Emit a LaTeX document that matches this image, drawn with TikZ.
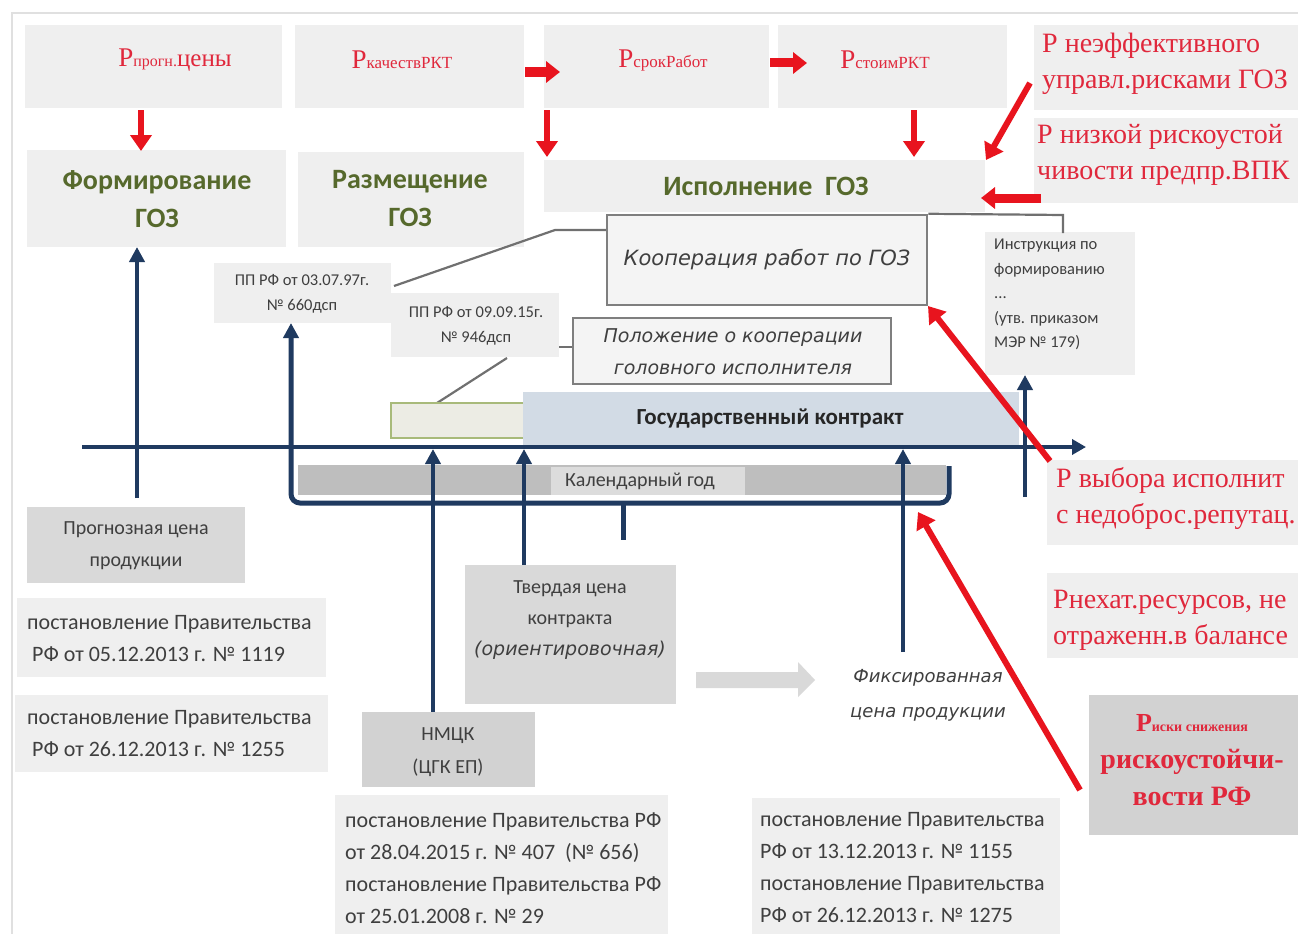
\documentclass[tikz,border=0pt]{standalone}
\usepackage{fontspec}
\setmainfont{Liberation Serif}
\newfontfamily\calfont{Carlito}
\newfontfamily\oblfont{DejaVu Sans}
\usetikzlibrary{arrows.meta}
\newcommand\fsz[2]{\fontsize{#1}{#2}\selectfont}

\definecolor{boxgray}{HTML}{EFEFEF}
\definecolor{midgray}{HTML}{D9D9D9}
\definecolor{riskgray}{HTML}{D2D2D2}
\definecolor{calgray}{HTML}{BEBEBE}
\definecolor{callab}{HTML}{DCDCDC}
\definecolor{riskred}{HTML}{E0283C}
\definecolor{arrowred}{HTML}{E8141E}
\definecolor{goz}{HTML}{56692C}
\definecolor{navy}{HTML}{1F3A60}
\definecolor{txtgray}{HTML}{3F3F3F}
\definecolor{framegray}{HTML}{7F7F7F}
\definecolor{linkgray}{HTML}{707070}
\definecolor{coopfill}{HTML}{F4F4F4}
\definecolor{gkblue}{HTML}{D2DBE5}
\definecolor{olivebar}{HTML}{A8BA7A}
\definecolor{olivefill}{HTML}{ECECE4}

\tikzset{
  lbox/.style={fill=boxgray, inner sep=0pt, outer sep=0pt},
  gbox/.style={fill=midgray, inner sep=0pt, outer sep=0pt},
  framebox/.style={fill=coopfill, draw=framegray, line width=2.5pt, inner sep=0pt},
  redtxt/.style={text=riskred, inner sep=0pt, font=\fsz{28}{36}, align=left},
  toptxt/.style={text=riskred, inner sep=0pt},
  goztxt/.style={text=goz, inner sep=0pt, font=\calfont\bfseries\fsz{28}{38}, align=center},
  graytxt/.style={text=txtgray, inner sep=0pt, font=\calfont\fsz{22}{32}, align=left},
  smalltxt/.style={text=txtgray, inner sep=0pt, font=\calfont\fsz{16.5}{25}, align=center},
  obltxt/.style={text=txtgray, inner sep=0pt, font=\oblfont\itshape\fsz{19}{32}, align=center},
  redarrow/.style={draw=arrowred, line width=6pt, -{Triangle[width=21pt,length=16pt]}},
  redblock/.style={draw=arrowred, line width=9pt, -{Triangle[width=21pt,length=14pt]}},
  navyarrow/.style={draw=navy, line width=4pt, -{Triangle[width=15pt,length=15pt]}},
  link/.style={draw=linkgray, line width=2.2pt},
}

\begin{document}
\begin{tikzpicture}[x=1pt,y=-1pt]
\useasboundingbox (0,0) rectangle (1298,934);
\fill[white] (0,0) rectangle (1298,934);
\draw[black!12, line width=1.2pt] (12,934) -- (12,13) -- (1298,13);

% ---- top row: risk sources
\node[lbox, minimum width=257pt, minimum height=83pt] (bA) at (153.5,66.5) {};
\node[lbox, minimum width=229pt, minimum height=83pt] (bB) at (409.5,66.5) {};
\node[lbox, minimum width=225pt, minimum height=83pt] (bC) at (656.5,66.5) {};
\node[lbox, minimum width=229pt, minimum height=83pt] (bD) at (892.5,66.5) {};
\node[toptxt] (tA) at (175,60) {{\fsz{27}{30}Р}{\fsz{16}{18}прогн.}{\fsz{25}{28}цены}};
\node[toptxt] (tB) at (402,60) {{\fsz{27}{30}Р}{\fsz{17}{18}качествРКТ}};
\node[toptxt] (tC) at (663,60) {{\fsz{27}{30}Р}{\fsz{17}{18}срокРабот}};
\node[toptxt] (tD) at (885,60) {{\fsz{27}{30}Р}{\fsz{17}{18}стоимРКТ}};

% ---- stages
\node[lbox, minimum width=259pt, minimum height=97pt] (bE) at (156.5,198.5) {};
\node[goztxt] (tE) at (157,199) {Формирование\\ГОЗ};
\node[lbox, minimum width=226pt, minimum height=95pt] (bF) at (411,199.5) {};
\node[goztxt] (tF) at (410,199) {Размещение\\ГОЗ};
\node[lbox, minimum width=441pt, minimum height=52pt] (bG) at (764.5,186) {};
\node[goztxt] (tG) at (766,186) {Исполнение\ \ ГОЗ};

% ---- right-hand risk labels
\node[lbox, minimum width=264pt, minimum height=85pt] (bR1) at (1166,67.5) {};
\node[redtxt, anchor=west] (tR1) at (1042,64) {Р неэффективного\\управл.рисками ГОЗ};
\node[lbox, minimum width=264pt, minimum height=85pt] (bR2) at (1166,160.5) {};
\node[redtxt, anchor=west] (tR2) at (1037,155) {Р низкой рискоустой\\чивости предпр.ВПК};
\node[lbox, minimum width=251pt, minimum height=85pt] (bR3) at (1172.5,502.5) {};
\node[redtxt, anchor=west] (tR3) at (1056,498) {Р выбора исполнит\\с недоброс.репутац.};
\node[lbox, minimum width=251pt, minimum height=85pt] (bR4) at (1172.5,615.5) {};
\node[redtxt, anchor=west] (tR4) at (1053,620) {Рнехат.ресурсов, не\\отраженн.в балансе};
\node[fill=riskgray, inner sep=0pt, minimum width=209pt, minimum height=140pt] (bR5) at (1193.5,765) {};
\node[redtxt, align=center, font=\bfseries\fsz{28}{37}] (tR5) at (1192,760)
  {{\fsz{26}{30}Р}{\fsz{14}{18}иски снижения}\\рискоустойчи-\\вости РФ};

% ---- cooperation documents
\node[framebox, minimum width=320pt, minimum height=90pt, text=txtgray,
      font=\oblfont\itshape\fsz{21}{26}] (coop) at (767,260) {Кооперация работ по ГОЗ};
\node[framebox, minimum width=318pt, minimum height=66pt] (polozh) at (732,351) {};
\node[obltxt] (tpolozh) at (733,352) {Положение о кооперации\\головного исполнителя};
\node[lbox, minimum width=150pt, minimum height=143pt] (instr) at (1060,303.5) {};
\node[smalltxt, align=left, font=\calfont\fsz{16.5}{24.5}, anchor=north west] (tinstr) at (994,239)
  {Инструкция по\\формированию\\...\\(утв. приказом\\МЭР № 179)};
\node[lbox, minimum width=177pt, minimum height=60pt] (pp1) at (302.5,293) {};
\node[smalltxt] (tpp1) at (302,294) {ПП РФ от 03.07.97г.\\№ 660дсп};
\node[lbox, minimum width=168pt, minimum height=64pt] (pp2) at (475,325) {};
\node[smalltxt] (tpp2) at (476,326) {ПП РФ от 09.09.15г.\\№ 946дсп};

\draw[link] (394,286) -- (555,230) -- (coop.west |- 0,230);
\draw[link] (507,358) -- (437,403);
\draw[link] (pp2.east |- 0,347) -- (polozh.west |- 0,347);
\draw[link] (coop.north east) -- (1063,215) -- (1063,233);

% ---- contract bars
\node[fill=olivefill, draw=olivebar, line width=2pt, inner sep=0pt,
      minimum width=134pt, minimum height=35pt] (gbar) at (458,420.5) {};
\node[fill=gkblue, inner sep=0pt, minimum width=496pt, minimum height=53pt] (gk) at (771,418.5) {};
\node[text=black!85, font=\calfont\bfseries\fsz{23}{28}, inner sep=0pt] (tgk) at (770,418) {Государственный контракт};

% ---- calendar year
\node[fill=calgray, inner sep=0pt, minimum width=648pt, minimum height=30pt] (cal) at (622,480) {};
\node[fill=callab, inner sep=0pt, minimum width=194pt, minimum height=28pt] (callab) at (648,481) {};
\node[text=txtgray, font=\calfont\fsz{20}{24}, inner sep=0pt] (tcal) at (640,481) {Календарный год};

% ---- time axis
\draw[navy, line width=4.5pt, -{Triangle[width=15pt,length=14pt]}] (82,447) -- (1086,447);
\draw[navy, line width=5pt, rounded corners=9pt, -{Triangle[width=15pt,length=15pt]}]
  (949,466) -- (949,503) -- (291,503) -- (291,0 |- pp1.south);
\draw[navy, line width=5pt] (623,503) -- (623,540);

% ---- price boxes
\node[gbox, minimum width=218pt, minimum height=76pt] (prog) at (136,545) {};
\node[graytxt, align=center, font=\calfont\fsz{20}{32}] (tprog) at (136,546) {Прогнозная цена\\продукции};
\node[lbox, minimum width=309pt, minimum height=79pt] (post1) at (171.5,637.5) {};
\node[graytxt, anchor=west] (tpost1) at (27,639) {постановление Правительства\\\hspace*{5pt}РФ от 05.12.2013 г. № 1119};
\node[lbox, minimum width=313pt, minimum height=77pt] (post2) at (171.5,733.5) {};
\node[graytxt, anchor=west] (tpost2) at (27,734) {постановление Правительства\\\hspace*{5pt}РФ от 26.12.2013 г. № 1255};

\node[gbox, minimum width=211pt, minimum height=139pt] (tverd) at (570.5,634.5) {};
\node[graytxt, align=center, font=\calfont\fsz{20}{31}] (ttverd) at (570,620)
  {Твердая цена\\контракта\\{\oblfont\itshape\fsz{19}{31}(ориентировочная)}};
\node[fill=riskgray, inner sep=0pt, minimum width=173pt, minimum height=75pt] (nmck) at (448.5,749.5) {};
\node[graytxt, align=center, font=\calfont\fsz{20}{33}] (tnmck) at (448,752) {НМЦК\\(ЦГК ЕП)};

\fill[midgray] (696,672) -- (798,672) -- (798,662) -- (815,680) -- (798,697) -- (798,688) -- (696,688) -- cycle;
\node[obltxt, font=\oblfont\itshape\fsz{18}{35}] (tfix) at (928,695) {Фиксированная\\цена продукции};

\node[lbox, minimum width=333pt, minimum height=140pt] (post3) at (501.5,865) {};
\node[graytxt, anchor=west] (tpost3) at (345,868)
  {постановление Правительства РФ\\от 28.04.2015 г. № 407\ \ (№ 656)\\постановление Правительства РФ\\от 25.01.2008 г. № 29};
\node[lbox, minimum width=308pt, minimum height=140pt] (post4) at (906,868) {};
\node[graytxt, anchor=west] (tpost4) at (760,868)
  {постановление Правительства\\РФ от 13.12.2013 г. № 1155\\постановление Правительства\\РФ от 26.12.2013 г. № 1275};

% ---- event arrows onto the axis
\draw[navyarrow] (137,498) -- (137,0 |- bE.south);
\draw[navyarrow] (433,0 |- nmck.north) -- (433,449);
\draw[navyarrow] (524,0 |- tverd.north) -- (524,449);
\draw[navyarrow] (903,652) -- (903,449);
\draw[navyarrow] (1025,497) -- (1025,0 |- instr.south);

% ---- risk arrows
\draw[redarrow] (141,110) -- (141,151);
\draw[redblock] (525,72) -- (560,72);
\draw[redblock] (770,63) -- (807,63);
\draw[redarrow] (547,110) -- (547,157);
\draw[redarrow] (914,110) -- (914,157);
\draw[redarrow] (1030,83) -- (986,160);
\draw[redblock] (1041,198) -- (981,198);
\draw[redarrow] (1050,461) -- (928,306);
\draw[redarrow] (1080,790) -- (918,512);
\end{tikzpicture}
\end{document}
